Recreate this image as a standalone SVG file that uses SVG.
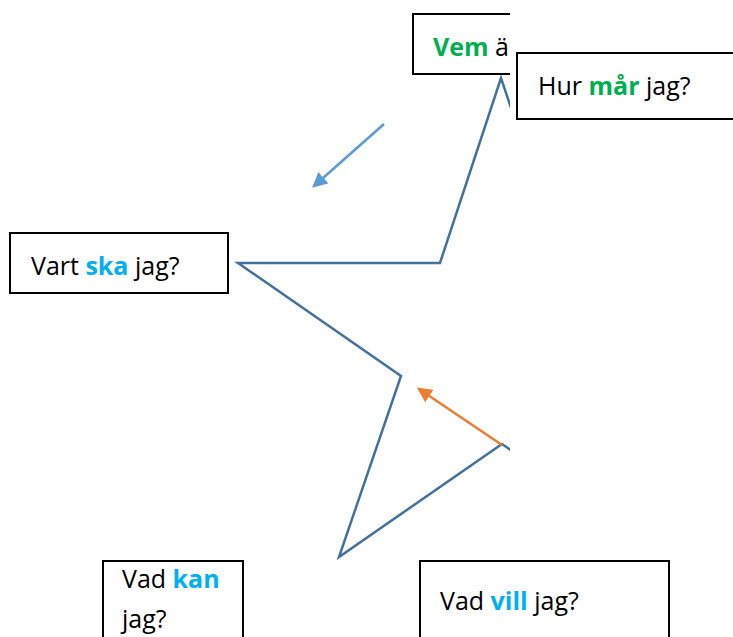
<svg xmlns="http://www.w3.org/2000/svg" width="733" height="637" viewBox="0 0 733 637">
<style>
.box{fill:#fff;stroke:#000;stroke-width:2}
.t{font-family:"Open Sans","Noto Sans",sans-serif;font-size:25px;fill:#000}
.g{fill:#00B050;font-weight:bold}
.b{fill:#00B0F0;font-weight:bold}
.star{fill:none;stroke:#41719C;stroke-width:2.5;stroke-linejoin:miter}
</style>
<defs>
<clipPath id="clipL"><rect x="0" y="0" width="510" height="637"/></clipPath>
<marker id="ab" markerWidth="6" markerHeight="6" refX="5" refY="3" orient="auto" markerUnits="strokeWidth"><path d="M0,0 L6,3 L0,6 z" fill="#5B9BD5"/></marker>
<marker id="ao" markerWidth="6" markerHeight="6" refX="5" refY="3" orient="auto" markerUnits="strokeWidth"><path d="M0,0 L6,3 L0,6 z" fill="#ED7D31"/></marker>
</defs>
<rect width="733" height="637" fill="#fff"/>
<g id="connectors">
<polyline class="star" clip-path="url(#clipL)" points="563,263 501,78 440,263 238,263 401,376 339,557 502,444 665,557"/>
<line x1="384" y1="124" x2="314" y2="186" stroke="#5B9BD5" stroke-width="2.5" marker-end="url(#ab)"/>
<line x1="502" y1="445" x2="419" y2="389" stroke="#ED7D31" stroke-width="2.5" marker-end="url(#ao)"/>
</g>
<g id="vem" clip-path="url(#clipL)">
<rect class="box" x="413" y="14" width="120" height="60"/>
<text class="t" x="433" y="56"><tspan class="g">Vem</tspan> ä</text>
</g>
<g id="hur">
<rect class="box" x="517" y="53" width="230" height="66"/>
<text class="t" x="538" y="95">Hur <tspan class="g">mår</tspan> jag?</text>
</g>
<g id="vart">
<rect class="box" x="10" y="233" width="218" height="60"/>
<text class="t" x="31" y="275">Vart <tspan class="b">ska</tspan> jag?</text>
</g>
<g id="kan">
<rect class="box" x="103" y="561" width="140" height="90"/>
<text class="t" x="122" y="588">Vad <tspan class="b">kan</tspan></text>
<text class="t" x="122" y="628">jag?</text>
</g>
<g id="vill">
<rect class="box" x="420" y="561" width="249" height="90"/>
<text class="t" x="440" y="610">Vad <tspan class="b">vill</tspan> jag?</text>
</g>
</svg>
